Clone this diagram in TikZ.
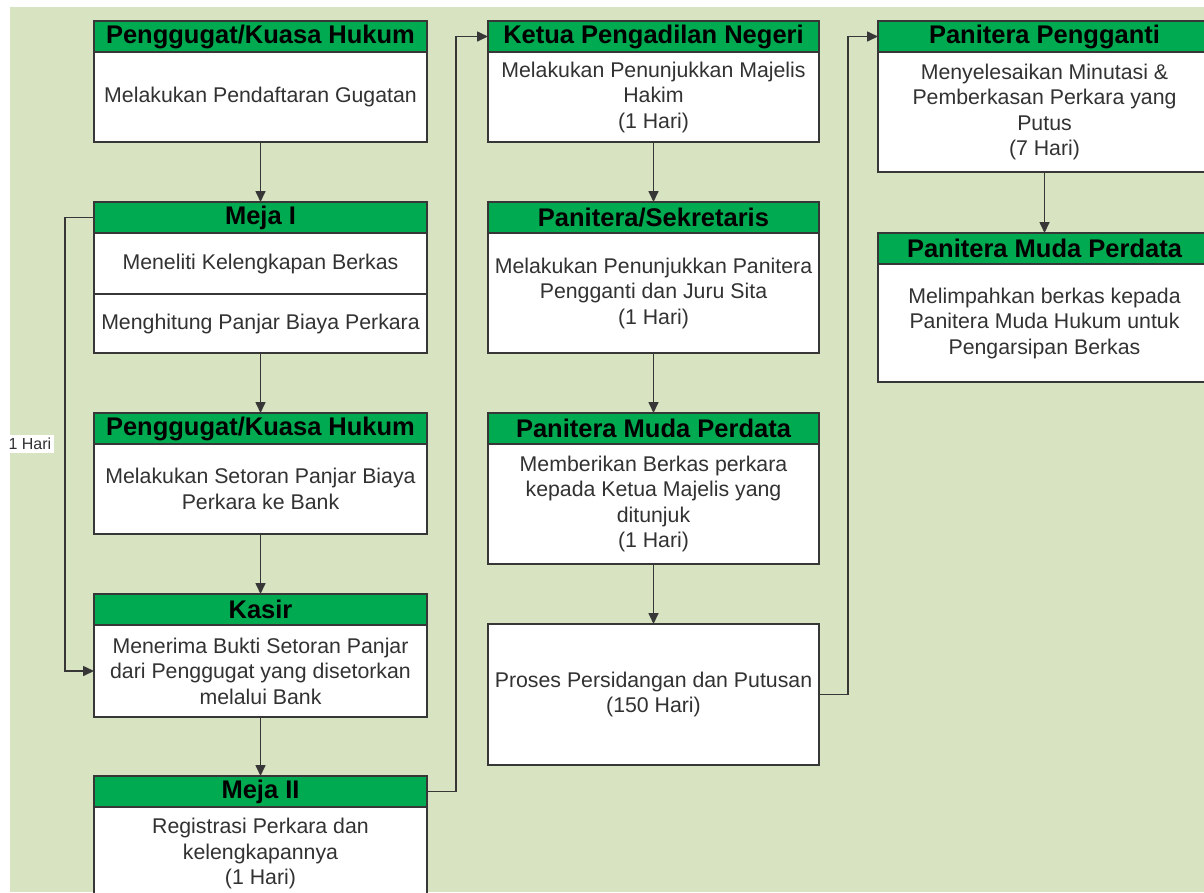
\documentclass[tikz,border=0pt]{standalone}
\usepackage{fontspec}
\setmainfont{Liberation Sans}
\usetikzlibrary{positioning,arrows.meta}

\definecolor{bggreen}{RGB}{216,227,193}
\definecolor{headgreen}{RGB}{0,170,80}
\definecolor{boxline}{RGB}{55,55,55}
\definecolor{bodytext}{RGB}{50,50,50}

\tikzset{%
  every head/.style={
    draw=boxline,
    fill=headgreen,
    line width=1.4pt,
    outer sep=0pt,
    inner sep=0pt,
    minimum width=333pt,
    minimum height=31pt,
    anchor=north west,
    font=\bfseries\fontsize{25.5}{27}\selectfont
  },
  every body/.style={
    draw=boxline,
    fill=white,
    line width=1.4pt,
    outer sep=0pt,
    inner sep=0pt,
    minimum width=333pt,
    align=center,
    text=bodytext,
    font=\fontsize{21.3}{25.5}\selectfont
  },
  col two/.style={minimum width=331pt},
  flow/.style={
    draw=boxline,
    line width=1.6pt,
    -{Triangle[length=11pt,width=10pt]}
  },
}

\begin{document}
\begin{tikzpicture}[x=1pt, y=-1pt]
\useasboundingbox (0,0) rectangle (1204,892);
\clip (0,0) rectangle (1204,892);
\fill [white] (0,0) rectangle (1204,892);
\fill [bggreen] (10,7) rectangle (1204,892);

% first column
\node [every head] (gugat1-head) at (94,21) {Penggugat/Kuasa Hukum};
\node [every body, minimum height=90pt, below=0pt of gugat1-head] (gugat1-body)
  {Melakukan Pendaftaran Gugatan};

\node [every head] (meja1-head) at (94,202) {Meja I};
\node [every body, minimum height=61pt, below=0pt of meja1-head] (meja1-body)
  {Meneliti Kelengkapan Berkas};
\node [every body, minimum height=59pt, below=0pt of meja1-body] (meja1-biaya)
  {Menghitung Panjar Biaya Perkara};

\node [every head] (gugat2-head) at (94,413) {Penggugat/Kuasa Hukum};
\node [every body, minimum height=90pt, below=0pt of gugat2-head] (gugat2-body)
  {Melakukan Setoran Panjar Biaya\\Perkara ke Bank};

\node [every head] (kasir-head) at (94,594) {Kasir};
\node [every body, minimum height=92pt, below=0pt of kasir-head] (kasir-body)
  {Menerima Bukti Setoran Panjar\\dari Penggugat yang disetorkan\\melalui Bank};

\node [every head] (meja2-head) at (94,776) {Meja II};
\node [every body, minimum height=93pt, below=0pt of meja2-head] (meja2-body)
  {Registrasi Perkara dan\\kelengkapannya\\(1 Hari)};

% second column
\node [every head, col two] (ketua-head) at (488,21) {Ketua Pengadilan Negeri};
\node [every body, col two, minimum height=90pt, below=0pt of ketua-head] (ketua-body)
  {Melakukan Penunjukkan Majelis\\Hakim\\(1 Hari)};

\node [every head, col two] (sekre-head) at (488,202) {Panitera/Sekretaris};
\node [every body, col two, minimum height=120pt, below=0pt of sekre-head] (sekre-body)
  {Melakukan Penunjukkan Panitera\\Pengganti dan Juru Sita\\(1 Hari)};

\node [every head, col two] (muda1-head) at (488,413) {Panitera Muda Perdata};
\node [every body, col two, minimum height=120pt, below=0pt of muda1-head] (muda1-body)
  {Memberikan Berkas perkara\\kepada Ketua Majelis yang\\ditunjuk\\(1 Hari)};

\node [every body, col two, minimum height=141pt, anchor=north west] (proses) at (488,624)
  {Proses Persidangan dan Putusan\\(150 Hari)};

% third column
\node [every head] (ganti-head) at (878,21) {Panitera Pengganti};
\node [every body, minimum height=120pt, below=0pt of ganti-head] (ganti-body)
  {Menyelesaikan Minutasi \&\\Pemberkasan Perkara yang\\Putus\\(7 Hari)};

\node [every head] (muda2-head) at (878,233) {Panitera Muda Perdata};
\node [every body, minimum height=118pt, below=0pt of muda2-head] (muda2-body)
  {Melimpahkan berkas kepada\\Panitera Muda Hukum untuk\\Pengarsipan Berkas};

% straight arrows
\foreach \a/\b in {gugat1-body/meja1-head, meja1-biaya/gugat2-head,
                   gugat2-body/kasir-head, kasir-body/meja2-head,
                   ketua-body/sekre-head, sekre-body/muda1-head,
                   muda1-body/proses, ganti-body/muda2-head}
  \draw [flow] (\a.south) -- (\b.north);

% bent arrows
\draw [flow] (meja1-head.west) -- ++(-29,0) |-
  node [pos=0.25, left=10pt, fill=white, inner sep=3pt, text=bodytext,
        font=\fontsize{16}{18}\selectfont] {1 Hari} (kasir-body.west);
\draw [flow] (meja2-head.east) -- ++(29,0) |- (ketua-head.west);
\draw [flow] (proses.east) -- ++(29,0) |- (ganti-head.west);

\end{tikzpicture}
\end{document}
